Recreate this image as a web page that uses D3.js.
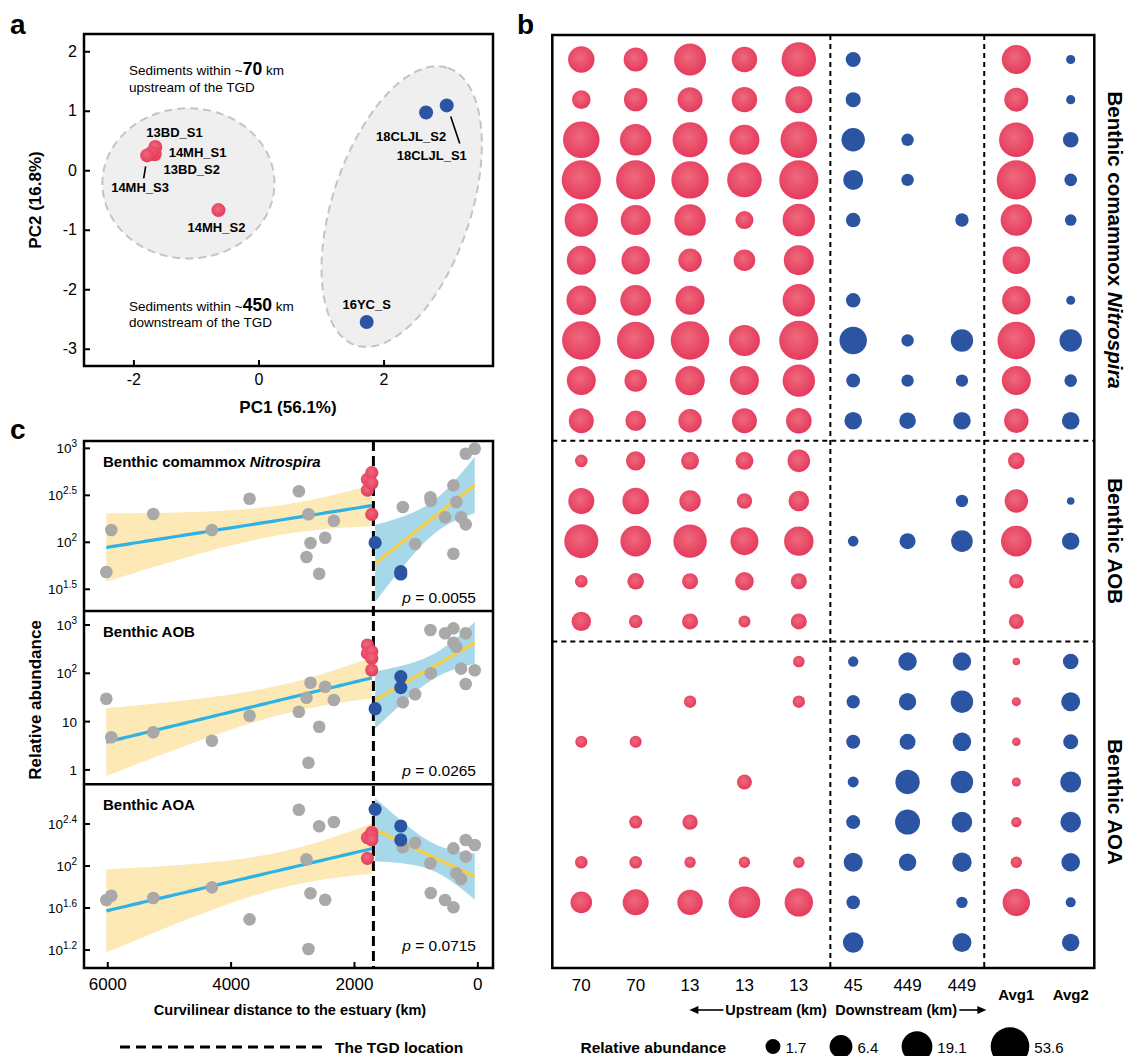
<!DOCTYPE html>
<html>
<head>
<meta charset="utf-8">
<script src="https://cdn.jsdelivr.net/npm/d3@7"></script>
<style>
  body { margin: 0; background: #fff; }
  svg { display: block; }
</style>
</head>
<body>
<svg id="fig" width="1129" height="1056"></svg>
<script>
// ---------------- data ----------------
// panel a: PCA scores of the sediment samples
const pcaNames = ['13BD_S1', '14MH_S1', '13BD_S2', '14MH_S3', '14MH_S2', '18CLJL_S2', '18CLJL_S1', '16YC_S'];
const pcaPC1 = [-1.65, -1.66, -1.71, -1.78, -0.64, 2.68, 3.01, 1.73];
const pcaPC2 = [0.39, 0.27, 0.29, 0.25, -0.67, 0.97, 1.09, -2.55];
const pcaSide = ['up', 'up', 'up', 'up', 'up', 'down', 'down', 'down'];

// panel b: relative abundance per OTU row (null = not detected)
const siteLabels = ['70', '70', '13', '13', '13', '45', '449', '449', 'Avg1', 'Avg2'];
const siteSide = ['up', 'up', 'up', 'up', 'up', 'down', 'down', 'down', 'up', 'down'];
const comammoxRows = [
  [10.6, 7.54, 22.6, 9.21, 31.1, 1.72, null, null, 15.1, 0.30],
  [3.30, 6.92, 8.70, 9.21, 11.5, 1.72, null, null, 7.54, 0.30],
  [41.4, 20.9, 33.6, 17.3, 41.4, 6.92, 0.95, null, 31.9, 1.93],
  [58.0, 58.0, 46.0, 31.9, 58.0, 4.14, 0.95, null, 58.0, 1.00],
  [27.2, 17.3, 20.9, 2.98, 23.9, 1.58, null, 1.22, 20.9, 0.76],
  [15.1, 14.0, 6.92, 5.30, 17.3, null, null, null, 12.5, null],
  [16.4, 18.8, 15.1, null, 23.9, 1.52, null, null, 14.0, 0.27],
  [52.4, 46.0, 53.8, 19.8, 58.0, 12.2, 0.95, 5.97, 47.2, 5.97],
  [15.1, 5.97, 16.0, 15.1, 23.9, 1.39, 0.95, 0.95, 15.1, 1.00],
  [8.70, 4.54, 6.92, 8.70, 9.47, 2.78, 2.33, 2.78, 7.99, 2.78]
];
const aobRows = [
  [1.00, 3.76, 2.98, 2.98, 6.15, null, null, null, 2.33, null],
  [10.0, 10.9, 5.14, 1.86, 4.54, null, null, 0.95, 6.92, 0.06],
  [29.5, 18.8, 27.2, 13.2, 16.0, 0.55, 2.09, 5.30, 18.8, 2.69],
  [1.00, 2.33, 2.09, 3.30, 2.09, null, null, null, 1.58, null],
  [3.76, 1.22, 2.09, 0.86, 2.09, null, null, null, 1.72, null]
];
const aoaRows = [
  [null, null, null, null, 0.76, 0.51, 3.19, 3.19, 0.05, 1.93],
  [null, null, 0.95, null, 0.95, 1.22, 2.69, 5.97, 0.27, 3.52],
  [0.86, 0.86, null, null, null, 1.39, 2.09, 3.30, 0.20, 1.72],
  [null, null, null, 1.72, null, 0.63, 7.99, 5.97, 0.27, 4.83],
  [null, 1.11, 1.86, null, null, 1.39, 8.70, 4.54, 0.51, 4.54],
  [1.00, 1.00, 0.72, 0.72, 0.72, 3.52, 2.69, 3.76, 0.72, 3.30],
  [5.30, 10.0, 9.21, 21.5, 14.0, 1.27, null, 0.72, 12.2, 0.44],
  [null, null, null, null, null, 4.54, null, 3.52, null, 2.69]
];
const sizeBreaks = [1.7, 6.4, 19.1, 53.6];

// panel c: curvilinear distance to the estuary (km)
const upKm = [6015, 5934, 5254, 4303, 3693, 2893, 2770, 2738, 2705, 2564, 2467, 2326];
const tgdUpKm = [1782, 1782, 1711, 1711, 1711];
const tgdDownKm = [1657, 1241, 1241];
const downKm = [1208, 1009, 761, 755, 523, 388, 388, 340, 264, 188, 188, 42];
const tgdKm = 1685;
// log10 relative abundance
const nitroUp = [1.684, 2.131, 2.301, 2.131, 2.464, 2.543, 1.844, 2.298, 1.993, 1.666, 2.049, 2.230];
const nitroRed = [2.670, 2.556, 2.741, 2.628, 2.298];
const nitroBlue = [1.996, 1.687, 1.663];
const nitroDown = [2.376, 1.982, 2.479, 2.443, 2.266, 2.606, 1.879, 2.429, 2.266, 2.191, 2.943, 2.996];
const aobUp = [1.474, 0.675, 0.778, 0.605, 1.122, 1.205, 1.495, 0.149, 1.805, 0.894, 1.723, 1.447];
const aobRed = [2.586, 2.414, 2.450, 2.310, 2.068];
const aobBlue = [1.267, 1.930, 1.702];
const aobDown = [1.400, 1.565, 2.896, 2.000, 2.828, 2.931, 2.634, 2.551, 2.096, 2.828, 1.778, 2.062];
const aoaUp = [1.676, 1.717, 1.695, 1.797, 1.492, 2.536, 2.064, 1.210, 1.740, 2.378, 1.679, 2.419];
const aoaRed = [2.073, 2.270, 2.320, 2.290, 2.250];
const aoaBlue = [2.540, 2.381, 2.248];
const aoaDown = [2.178, 2.222, 2.026, 1.743, 1.676, 2.168, 1.607, 1.930, 1.876, 2.248, 2.089, 2.200];

// ---------------- setup ----------------
const FONT = '"Liberation Sans", Arial, sans-serif';
const RED = '#e8415e', BLUE = '#2b55a3', GRAY = '#a9a9a9';
const BAND_UP = '#fce9b6', LINE_UP = '#2db2e6', BAND_DOWN = '#a7d8ea', LINE_DOWN = '#f8cd42';

const svg = d3.select('#fig').attr('font-family', FONT);
const defs = svg.append('defs');
const rg = defs.append('radialGradient').attr('id', 'redDot')
  .attr('cx', '45%').attr('cy', '42%').attr('r', '62%');
rg.append('stop').attr('offset', '0%').attr('stop-color', '#ee6a7c');
rg.append('stop').attr('offset', '100%').attr('stop-color', '#e5365a');

[['a', 10, 34], ['b', 517, 34], ['c', 10, 439]].forEach(([t, x, y]) => {
  svg.append('text').attr('x', x).attr('y', y).attr('font-size', 28)
    .attr('font-weight', 'bold').text(t);
});

function styleAxis(g, size) {
  g.attr('font-family', FONT).attr('font-size', size);
  g.select('.domain').remove();
  g.selectAll('.tick line').attr('stroke', '#000').attr('stroke-width', 2);
  g.selectAll('.tick text').attr('fill', '#000');
}

// ---------------- panel a ----------------
const xA = d3.scaleLinear().domain([-2.79, 3.75]).range([84, 493]);
const yA = d3.scaleLinear().domain([-3.29, 2.29]).range([366, 34]);
const gA = svg.append('g');

// cluster ellipses, centre and conjugate semi-axes in PC units
const clusterEllipses = [
  {c: [-1.12, -0.22], u: [1.376, 0], v: [0, 1.262]},
  {c: [2.29, -0.61], u: [0.738, 2.33], v: [1.048, -0.367]}
];
const ellLine = d3.line().x(d => xA(d[0])).y(d => yA(d[1])).curve(d3.curveLinearClosed);
clusterEllipses.forEach(e => {
  const pts = d3.range(0, 2 * Math.PI, Math.PI / 90).map(t => [
    e.c[0] + e.u[0] * Math.cos(t) + e.v[0] * Math.sin(t),
    e.c[1] + e.u[1] * Math.cos(t) + e.v[1] * Math.sin(t)
  ]);
  gA.append('path').attr('d', ellLine(pts))
    .attr('fill', '#efefef').attr('stroke', '#c4c4c4')
    .attr('stroke-width', 2).attr('stroke-dasharray', '8,5');
});

gA.append('g').attr('transform', 'translate(0,366)')
  .call(d3.axisBottom(xA).tickValues([-2, 0, 2]).tickSize(-6).tickPadding(8).tickFormat(d => String(d)))
  .call(g => styleAxis(g, 16));
gA.append('g').attr('transform', 'translate(84,0)')
  .call(d3.axisLeft(yA).tickValues([-3, -2, -1, 0, 1, 2]).tickSize(-6).tickPadding(7).tickFormat(d => String(d)))
  .call(g => styleAxis(g, 16));

// group notes
const notes = [
  {x: -2.07, y: 1.6, parts: [['Sediments within ~', false], ['70', true], [' km', false]]},
  {x: -2.07, y: 1.32, parts: [['upstream of the TGD', false]]},
  {x: -2.07, y: -2.37, parts: [['Sediments within ~', false], ['450', true], [' km', false]]},
  {x: -2.07, y: -2.64, parts: [['downstream of the TGD', false]]}
];
notes.forEach(n => {
  const t = gA.append('text').attr('x', xA(n.x)).attr('y', yA(n.y)).attr('font-size', 13.5);
  n.parts.forEach(([s, big]) => {
    t.append('tspan').attr('font-size', big ? 17.5 : 13.5)
      .attr('font-weight', big ? 'bold' : 'normal').text(s);
  });
});

gA.selectAll('circle.pca').data(pcaNames).join('circle')
  .attr('class', 'pca')
  .attr('cx', (d, i) => xA(pcaPC1[i])).attr('cy', (d, i) => yA(pcaPC2[i]))
  .attr('r', 7)
  .attr('fill', (d, i) => pcaSide[i] === 'up' ? 'url(#redDot)' : BLUE);

// label offsets (px) from each sample point
const pcaLabelPos = {
  '13BD_S1': [-9, -10, 'start'], '14MH_S1': [14, 3, 'start'], '13BD_S2': [12, 21, 'start'],
  '14MH_S3': [-36, 37, 'start'], '14MH_S2': [-2, 22, 'middle'], '18CLJL_S2': [-50, 28, 'start'],
  '18CLJL_S1': [-50, 55, 'start'], '16YC_S': [0, -13, 'middle']
};
const pcaLeaders = {'14MH_S3': [[-1.5, 11], [-3.5, 23]], '18CLJL_S1': [[4, 11], [13, 38]]};
pcaNames.forEach((name, i) => {
  const px = xA(pcaPC1[i]), py = yA(pcaPC2[i]);
  const [dx, dy, anchor] = pcaLabelPos[name];
  gA.append('text').attr('x', px + dx).attr('y', py + dy).attr('text-anchor', anchor)
    .attr('font-size', 13).attr('font-weight', 'bold').text(name);
  if (pcaLeaders[name]) {
    const [a, b] = pcaLeaders[name];
    gA.append('line').attr('x1', px + a[0]).attr('y1', py + a[1])
      .attr('x2', px + b[0]).attr('y2', py + b[1])
      .attr('stroke', '#000').attr('stroke-width', 1.6);
  }
});

gA.append('rect').attr('x', 84).attr('y', 34).attr('width', 409).attr('height', 332)
  .attr('fill', 'none').attr('stroke', '#000').attr('stroke-width', 2.5);
gA.append('text').attr('x', 288).attr('y', 413).attr('text-anchor', 'middle')
  .attr('font-size', 17).attr('font-weight', 'bold').text('PC1 (56.1%)');
gA.append('text').attr('transform', 'translate(41,200) rotate(-90)').attr('text-anchor', 'middle')
  .attr('font-size', 17).attr('font-weight', 'bold').text('PC2 (16.8%)');

// ---------------- panel b ----------------
const gB = svg.append('g');
const B_LEFT = 552.3, B_RIGHT = 1094.3, B_TOP = 35, B_BOTTOM = 968;
const bGroups = [
  {name: [['Benthic comammox ', 'normal'], ['Nitrospira', 'italic']], rows: comammoxRows},
  {name: [['Benthic AOB', 'normal']], rows: aobRows},
  {name: [['Benthic AOA', 'normal']], rows: aoaRows}
];
const bRows = bGroups.flatMap(g => g.rows);
const xB = d3.scalePoint().domain(d3.range(siteLabels.length)).range([581.3, 1070.7]);
const yB = d3.scalePoint().domain(d3.range(bRows.length)).range([59.5, 942.5]);
const rB = d3.scaleLinear().domain([1, 4]).range([7.5, 19.3]);
const sizeOf = v => rB(Math.log1p(v));

const cells = [];
bRows.forEach((row, r) => row.forEach((v, c) => { if (v !== null) cells.push({r, c, v}); }));
gB.selectAll('circle.cell').data(cells).join('circle')
  .attr('class', 'cell')
  .attr('cx', d => xB(d.c)).attr('cy', d => yB(d.r)).attr('r', d => sizeOf(d.v))
  .attr('fill', d => siteSide[d.c] === 'up' ? 'url(#redDot)' : BLUE);

const dashB = {stroke: '#000', 'stroke-width': 2, 'stroke-dasharray': '5,4'};
// column separators: after column index, fraction of a step
const colSeparators = [[4, 0.58], [7, 0.41]];
const sepX = colSeparators.map(([c, f]) => xB(c) + f * xB.step());
sepX.forEach(x => {
  const l = gB.append('line').attr('x1', x).attr('x2', x).attr('y1', B_TOP).attr('y2', B_BOTTOM);
  Object.entries(dashB).forEach(([k, v]) => l.attr(k, v));
});
let rowStart = 0;
bGroups.forEach((g, gi) => {
  const first = rowStart, last = rowStart + g.rows.length - 1;
  if (gi > 0) {
    const y = (yB(first - 1) + yB(first)) / 2;
    const l = gB.append('line').attr('x1', B_LEFT).attr('x2', B_RIGHT).attr('y1', y).attr('y2', y);
    Object.entries(dashB).forEach(([k, v]) => l.attr(k, v));
  }
  const cy = (yB(first) + yB(last)) / 2;
  const t = gB.append('text').attr('transform', `translate(1108,${cy}) rotate(90)`)
    .attr('text-anchor', 'middle').attr('font-size', 20.5).attr('font-weight', 'bold');
  g.name.forEach(([s, st]) => t.append('tspan').attr('font-style', st).text(s));
  rowStart = last + 1;
});
gB.append('rect').attr('x', B_LEFT).attr('y', B_TOP).attr('width', B_RIGHT - B_LEFT).attr('height', B_BOTTOM - B_TOP)
  .attr('fill', 'none').attr('stroke', '#000').attr('stroke-width', 2.5);

siteLabels.forEach((s, i) => {
  const avg = s.startsWith('Avg');
  gB.append('text').attr('x', xB(i)).attr('y', avg ? 1000 : 991).attr('text-anchor', 'middle')
    .attr('font-size', avg ? 15 : 17).attr('font-weight', avg ? 'bold' : 'normal').text(s);
});
const tgdB = sepX[0];
gB.append('text').attr('x', tgdB - 3.5).attr('y', 1015).attr('text-anchor', 'end')
  .attr('font-size', 14.5).attr('font-weight', 'bold').text('Upstream (km)');
gB.append('text').attr('x', tgdB + 5).attr('y', 1015).attr('text-anchor', 'start')
  .attr('font-size', 14.5).attr('font-weight', 'bold').text('Downstream (km)');
[[tgdB - 107, tgdB - 141], [tgdB + 129, tgdB + 156]].forEach(([from, to]) => {
  const dir = Math.sign(to - from);
  gB.append('line').attr('x1', from).attr('x2', to - dir * 6).attr('y1', 1010).attr('y2', 1010)
    .attr('stroke', '#000').attr('stroke-width', 1.6);
  gB.append('path').attr('d', `M${to},1010 L${to - dir * 9},1006 L${to - dir * 9},1014 Z`).attr('fill', '#000');
});

gB.append('text').attr('x', 580.5).attr('y', 1053).attr('font-size', 15.5).attr('font-weight', 'bold')
  .text('Relative abundance');
const legendX = [773, 841, 917, 1010];
sizeBreaks.forEach((v, i) => {
  const r = sizeOf(v);
  gB.append('circle').attr('cx', legendX[i]).attr('cy', 1046.5).attr('r', r).attr('fill', '#000');
  gB.append('text').attr('x', legendX[i] + r + 5).attr('y', 1053).attr('font-size', 15).text(v);
});

// ---------------- panel c ----------------
const xC = d3.scaleLinear().domain([6377, -254]).range([84, 493]);
const gC = svg.append('g');

function tQuantile975(df) {
  const z = 1.959964, z3 = z ** 3, z5 = z ** 5, z7 = z ** 7;
  return z + (z3 + z) / (4 * df) + (5 * z5 + 16 * z3 + 3 * z) / (96 * df * df)
    + (3 * z7 + 19 * z5 + 17 * z3 - 15 * z) / (384 * df ** 3);
}
// ordinary least squares with 95% confidence band
function linearFit(xs, ys) {
  const n = xs.length, xm = d3.mean(xs), ym = d3.mean(ys);
  const sxx = d3.sum(xs, x => (x - xm) ** 2);
  const sxy = d3.sum(xs.map((x, i) => (x - xm) * (ys[i] - ym)));
  const slope = sxy / sxx, icpt = ym - slope * xm;
  const sse = d3.sum(xs.map((x, i) => (ys[i] - icpt - slope * x) ** 2));
  const s = Math.sqrt(sse / (n - 2)), t = tQuantile975(n - 2);
  return x => {
    const f = icpt + slope * x;
    const h = t * s * Math.sqrt(1 / n + (x - xm) ** 2 / sxx);
    return [f - h, f, f + h];
  };
}

const cPanels = [
  {title: [['Benthic comammox ', 'normal'], ['Nitrospira', 'italic']], top: 441, bottom: 611,
   domain: [1.269, 3.078], ticks: [[1.5, '1.5'], [2, '2'], [2.5, '2.5'], [3, '3']],
   p: '0.0055', pDrop: 8, up: nitroUp, red: nitroRed, blue: nitroBlue, down: nitroDown},
  {title: [['Benthic AOB', 'normal']], top: 611, bottom: 784.3,
   domain: [-0.298, 3.29], ticks: [[0, null], [1, null], [2, '2'], [3, '3']],
   p: '0.0265', pDrop: 8, up: aobUp, red: aobRed, blue: aobBlue, down: aobDown},
  {title: [['Benthic AOA', 'normal']], top: 784.3, bottom: 968,
   domain: [1.029, 2.778], ticks: [[1.2, '1.2'], [1.6, '1.6'], [2, '2'], [2.4, '2.4']],
   p: '0.0715', pDrop: 17, up: aoaUp, red: aoaRed, blue: aoaBlue, down: aoaDown}
];
cPanels.forEach((P, k) => {
  P.y = d3.scaleLinear().domain(P.domain).range([P.bottom, P.top]);
  defs.append('clipPath').attr('id', 'clipC' + k).append('rect')
    .attr('x', 84).attr('y', P.top).attr('width', 409).attr('height', P.bottom - P.top);
});

// fits and bands
cPanels.forEach((P, k) => {
  const body = gC.append('g').attr('clip-path', `url(#clipC${k})`);
  const fits = [
    [upKm.concat(tgdUpKm), P.up.concat(P.red), BAND_UP, LINE_UP],
    [tgdDownKm.concat(downKm), P.blue.concat(P.down), BAND_DOWN, LINE_DOWN]
  ];
  fits.forEach(([xs, ys, band, line]) => {
    const fit = linearFit(xs, ys);
    const [lo, hi] = d3.extent(xs);
    const rows = d3.range(81).map(i => { const x = lo + (hi - lo) * i / 80; return [x, ...fit(x)]; });
    body.append('path').datum(rows).attr('fill', band)
      .attr('d', d3.area().x(d => xC(d[0])).y0(d => P.y(d[1])).y1(d => P.y(d[3])));
    body.append('path').datum(rows).attr('fill', 'none').attr('stroke', line).attr('stroke-width', 3.2)
      .attr('d', d3.line().x(d => xC(d[0])).y(d => P.y(d[2])));
  });
});

gC.append('line').attr('x1', xC(tgdKm)).attr('x2', xC(tgdKm)).attr('y1', 441).attr('y2', 968)
  .attr('stroke', '#000').attr('stroke-width', 3).attr('stroke-dasharray', '10,5');

// points, ticks and labels
cPanels.forEach(P => {
  const g = gC.append('g');
  const pts = [];
  upKm.forEach((x, i) => pts.push([x, P.up[i], GRAY]));
  downKm.forEach((x, i) => pts.push([x, P.down[i], GRAY]));
  tgdUpKm.forEach((x, i) => pts.push([x, P.red[i], 'url(#redDot)']));
  tgdDownKm.forEach((x, i) => pts.push([x, P.blue[i], BLUE]));
  g.selectAll('circle').data(pts).join('circle')
    .attr('cx', d => xC(d[0])).attr('cy', d => P.y(d[1]))
    .attr('r', d => d[2] === GRAY ? 6.3 : 6.6).attr('fill', d => d[2]);

  P.ticks.forEach(([v, exp]) => {
    const y = P.y(v);
    g.append('line').attr('x1', 84).attr('x2', 90).attr('y1', y).attr('y2', y)
      .attr('stroke', '#000').attr('stroke-width', 2);
    const t = g.append('text').attr('x', 77).attr('y', y + 5).attr('text-anchor', 'end').attr('font-size', 13.5);
    if (exp === null) {
      t.text(v === 0 ? '1' : '10');
    } else {
      t.append('tspan').text('10');
      t.append('tspan').attr('font-size', 10).attr('dy', -6).text(exp);
    }
  });

  const tt = g.append('text').attr('x', 103).attr('y', P.top + 26).attr('font-size', 15).attr('font-weight', 'bold');
  P.title.forEach(([s, st]) => tt.append('tspan').attr('font-style', st).text(s));

  const pt = g.append('text').attr('x', 476).attr('y', P.bottom - P.pDrop).attr('text-anchor', 'end').attr('font-size', 15.5);
  pt.append('tspan').attr('font-style', 'italic').text('p');
  pt.append('tspan').text(' = ' + P.p);
});

gC.append('g').attr('transform', 'translate(0,968)')
  .call(d3.axisBottom(xC).tickValues([6000, 4000, 2000, 0]).tickSize(-6).tickPadding(10).tickFormat(d => String(d)))
  .call(g => styleAxis(g, 17));

gC.append('rect').attr('x', 84).attr('y', 441).attr('width', 409).attr('height', 527)
  .attr('fill', 'none').attr('stroke', '#000').attr('stroke-width', 2.5);
cPanels.slice(1).forEach(P => {
  gC.append('line').attr('x1', 84).attr('x2', 493).attr('y1', P.top).attr('y2', P.top)
    .attr('stroke', '#000').attr('stroke-width', 2.5);
});

gC.append('text').attr('transform', 'translate(41,700) rotate(-90)').attr('text-anchor', 'middle')
  .attr('font-size', 17).attr('font-weight', 'bold').text('Relative abundance');
gC.append('text').attr('x', 290).attr('y', 1015).attr('text-anchor', 'middle')
  .attr('font-size', 14.5).attr('font-weight', 'bold').text('Curvilinear distance to the estuary (km)');

gC.append('line').attr('x1', 120).attr('x2', 322).attr('y1', 1047).attr('y2', 1047)
  .attr('stroke', '#000').attr('stroke-width', 3).attr('stroke-dasharray', '10,6');
gC.append('text').attr('x', 335).attr('y', 1053).attr('font-size', 15.5).attr('font-weight', 'bold')
  .text('The TGD location');
</script>
</body>
</html>
